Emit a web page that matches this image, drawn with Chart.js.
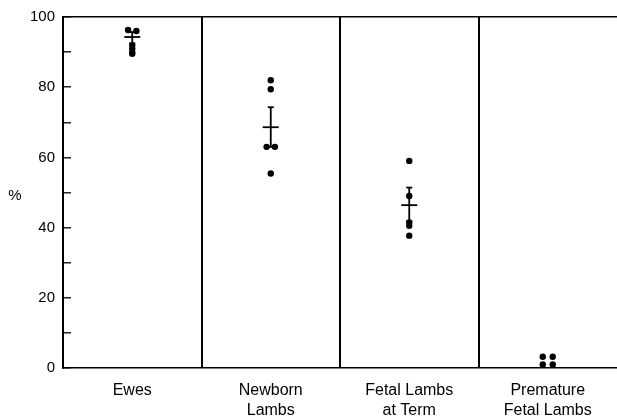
<!DOCTYPE html>
<html>
<head>
<meta charset="utf-8">
<script src="https://cdn.jsdelivr.net/npm/chart.js@4/dist/chart.umd.min.js"></script>
<style>
  html, body { margin: 0; padding: 0; background: #fff; }
  #wrap { width: 617px; height: 417px; }
</style>
</head>
<body>
<div id="wrap"><canvas id="c" width="617" height="417"></canvas></div>
<script>
// Categories (x labels, multi-line)
const categories = [['Ewes'], ['Newborn', 'Lambs'], ['Fetal Lambs', 'at Term'], ['Premature', 'Fetal Lambs']];

// Individual observations: category index, small horizontal offset, value (%)
const dotCat    = [0, 0, 0, 0, 0, 0,   1, 1, 1, 1, 1,   2, 2, 2, 2, 2,   3, 3, 3, 3];
const dotOffset = [-0.03, 0.03, 0, 0, 0, 0,   0, 0, -0.03, 0.03, 0,   0, 0, 0, 0, 0,   -0.036, -0.036, 0.036, 0.036];
const dotValues = [96.3, 96, 92, 91, 90, 89.5,   82, 79.4, 63, 63, 55.4,   59, 49, 41.5, 40.5, 37.7,   3.2, 1.0, 3.2, 1.0];

// Group means and error bars (low/high)
const meanCat  = [0, 1, 2];
const meanVals = [94.3, 68.6, 46.4];
const errLow   = [92.5, 63, 41.8];
const errHigh  = [95.7, 74.3, 51.4];

// Y tick values labelled
const yLabelled = [0, 20, 40, 60, 80, 100];

const dotData = dotValues.map((v, i) => ({ x: dotCat[i] + 0.5 + dotOffset[i], y: v }));
const meanData = meanVals.map((v, i) => ({ x: meanCat[i] + 0.5, y: v }));
const errData = [];
meanCat.forEach((c, i) => {
  errData.push({ x: c + 0.5, y: errLow[i] });
  errData.push({ x: c + 0.5, y: errHigh[i] });
  errData.push({ x: c + 0.5, y: null });
});

const FONT = 'Liberation Sans, Arial, sans-serif';

const percentLabel = {
  id: 'percentLabel',
  afterDraw(chart) {
    const ctx = chart.ctx;
    const ys = chart.scales.y;
    ctx.save();
    ctx.fillStyle = '#000';
    ctx.font = '15px ' + FONT;
    ctx.textAlign = 'center';
    ctx.textBaseline = 'middle';
    ctx.fillText('%', 15, (ys.top + ys.bottom) / 2 + 3);
    ctx.restore();
  }
};

new Chart(document.getElementById('c'), {
  type: 'scatter',
  data: {
    datasets: [
      {
        label: 'obs',
        data: dotData,
        pointStyle: 'circle',
        pointRadius: 3.2,
        backgroundColor: '#000',
        borderColor: '#000',
        borderWidth: 0
      },
      {
        label: 'err',
        type: 'line',
        data: errData,
        spanGaps: false,
        borderColor: '#000',
        borderWidth: 1.8,
        pointStyle: 'line',
        pointRadius: 3,
        pointBorderWidth: 1.8,
        pointBorderColor: '#000',
        fill: false
      },
      {
        label: 'mean',
        data: meanData,
        pointStyle: 'line',
        pointRadius: 8,
        pointBorderWidth: 1.8,
        borderColor: '#000',
        backgroundColor: '#000'
      }
    ]
  },
  options: {
    responsive: false,
    animation: false,
    events: [],
    layout: { autoPadding: false, padding: { top: 17, right: 0, left: 0, bottom: 0 } },
    plugins: { legend: { display: false }, tooltip: { enabled: false } },
    scales: {
      x: {
        type: 'linear',
        min: 0,
        max: 4,
        afterFit(s) { s.height = 49; s.paddingLeft = 0; s.paddingRight = 0; },
        afterBuildTicks(s) {
          const t = [];
          for (let i = 0; i <= 8; i++) t.push({ value: i * 0.5 });
          s.ticks = t;
        },
        border: { display: true, color: '#000', width: 1.6 },
        grid: {
          drawTicks: false,
          lineWidth: 2,
          color: (ctx) => {
            const v = ctx.tick && ctx.tick.value;
            return (v === 1 || v === 2 || v === 3) ? '#000' : 'rgba(0,0,0,0)';
          }
        },
        ticks: {
          autoSkip: false,
          maxRotation: 0,
          padding: 13,
          color: '#000',
          font: { family: FONT, size: 16, lineHeight: 1.25 },
          callback: (v, i) => (i % 2 === 1 ? categories[(i - 1) / 2] : '')
        }
      },
      y: {
        min: 0,
        max: 100,
        afterFit(s) { s.width = 63; s.paddingTop = 0; s.paddingBottom = 0; },
        border: { display: true, color: '#000', width: 2 },
        grid: {
          drawTicks: true,
          tickLength: -8,
          tickColor: '#000',
          tickWidth: 1.3,
          lineWidth: 1.6,
          color: (ctx) => (ctx.tick && ctx.tick.value === 100 ? '#000' : 'rgba(0,0,0,0)')
        },
        ticks: {
          stepSize: 10,
          padding: 16,
          color: '#000',
          font: { family: FONT, size: 15 },
          callback: (v) => (yLabelled.includes(v) ? String(v) : '')
        }
      }
    }
  },
  plugins: [percentLabel]
});
</script>
</body>
</html>
